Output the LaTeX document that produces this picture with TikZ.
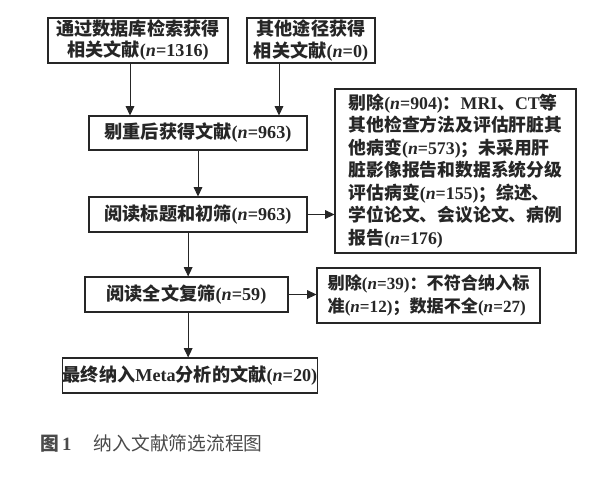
\documentclass[tikz,border=0pt]{standalone}
\usepackage{fontspec}
\setmainfont{Noto Sans CJK SC}
\newfontfamily\lat{Liberation Serif}
\usetikzlibrary{arrows.meta}
\definecolor{inkdark}{HTML}{262626}
\definecolor{capgrey}{HTML}{4A4A4A}
\newcommand{\nn}[1]{{\lat(\textit{n}=#1)}}
\newcommand{\la}[1]{{\lat #1}}
\tikzset{
  fl box/.style={draw=inkdark, line width=0.9pt, inner sep=0pt, align=center, text=inkdark,
                 font=\bfseries\fontsize{15.5}{18}\selectfont},
  fl excl/.style={fl box, align=left, font=\bfseries\fontsize{15.2}{19.2}\selectfont},
  fl arr/.style={-{Triangle[length=2.8mm, width=2.6mm]}, line width=0.8pt, inkdark},
  fl cap/.style={anchor=west, inner sep=0pt, text=capgrey, font=\fontsize{16}{18}\selectfont},
}
\begin{document}
\begin{tikzpicture}[x=0.03cm, y=-0.03cm]
  \useasboundingbox[fill=white] (0,0) rectangle (600,483);
  % top row: the two sources
  \node[fl box, minimum width=5.4cm, minimum height=1.35cm] (db) at (138,40.5) {通过数据库检索获得\\相关文献\nn{1316}};
  \node[fl box, minimum width=3.84cm, minimum height=1.35cm] (oth) at (311,40.5) {其他途径获得\\相关文献\nn{0}};
  % main column
  \node[fl box, minimum width=6.54cm, minimum height=1.02cm] (dedup) at (198,133) {剔重后获得文献\nn{963}};
  \node[fl box, minimum width=6.54cm, minimum height=1.05cm] (title) at (198,214.5) {阅读标题和初筛\nn{963}};
  \node[fl box, minimum width=6.09cm, minimum height=1.05cm] (full) at (186.5,294.5) {阅读全文复筛\nn{59}};
  \node[fl box, minimum width=7.62cm, minimum height=1.05cm] (final) at (190,375.5) {最终纳入\la{Meta}分析的文献\nn{20}};
  % exclusions on the right
  \node[fl excl, minimum width=7.23cm, minimum height=4.92cm] (ex1) at (455.5,171) {剔除\nn{904}：\la{MRI}、\la{CT}等\\其他检查方法及评估肝脏其\\他病变\nn{573}；未采用肝\\脏影像报告和数据系统分级\\评估病变\nn{155}；综述、\\学位论文、会议论文、病例\\报告\nn{176}};
  \node[fl excl, minimum width=6.69cm, minimum height=1.65cm, font=\bfseries\fontsize{14.6}{19.2}\selectfont] (ex2) at (428.5,295.5) {剔除\nn{39}：不符合纳入标\\准\nn{12}；数据不全\nn{27}};
  % connectors
  \draw[fl arr] ([xshift=-0.24cm]db.south) -- ([xshift=-0.24cm]db.south |- dedup.north);
  \draw[fl arr] ([xshift=-0.96cm]oth.south) -- ([xshift=-0.96cm]oth.south |- dedup.north);
  \draw[fl arr] (dedup) -- (title);
  \foreach \a/\b in {title/full, full/final}
    \draw[fl arr] ([xshift=0.05cm]full.south |- \a.south) -- ([xshift=0.05cm]full.south |- \b.north);
  \draw[fl arr] (title.east) -- (ex1.west |- title.east);
  \draw[fl arr] (full.east) -- (ex2.west |- full.east);
  % caption
  \node[fl cap] (cap) at (40,443) {{\bfseries 图\,\la{1}}\hspace{1.2em}纳入文献筛选流程图};
\end{tikzpicture}
\end{document}
